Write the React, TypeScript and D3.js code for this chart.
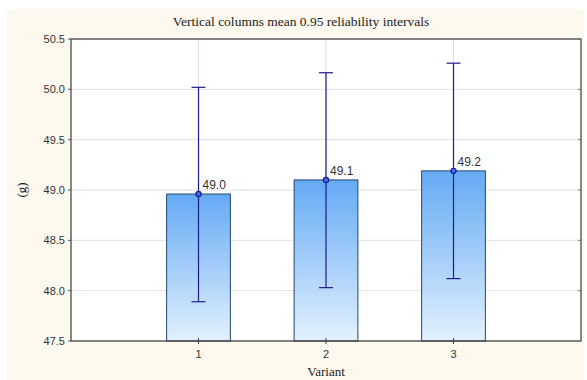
import React from "react";
import * as d3 from "d3";

const variants = ["1", "2", "3"];
const means = [48.96, 49.1, 49.19];
const lowerCI = [47.89, 48.03, 48.12];
const upperCI = [50.02, 50.165, 50.26];
const yTicks = [47.5, 48.0, 48.5, 49.0, 49.5, 50.0, 50.5];

const W = 587;
const H = 380;
const plot = { left: 71, top: 39, right: 581, bottom: 341 };

export default function App() {
  const x = d3.scaleLinear().domain([0, variants.length + 1]).range([plot.left, plot.right]);
  const y = d3.scaleLinear().domain([47.5, 50.5]).range([plot.bottom, plot.top]);
  const slot = x(1) - x(0);
  const barW = slot / 2;
  const capW = 14;
  const sans = "Arial, 'Liberation Sans', sans-serif";
  const serif = "'Times New Roman', 'Liberation Serif', serif";

  return (
    <svg width={W} height={H} style={{ position: "absolute", left: 0, top: 0 }}>
      <defs>
        <linearGradient id="barFill" x1="0" y1="0" x2="0" y2="1">
          <stop offset="0%" stopColor="#64aaf4" />
          <stop offset="100%" stopColor="#e3f1fe" />
        </linearGradient>
      </defs>
      <rect x={0} y={0} width={W} height={H} fill="#ffffff" />
      <rect x={7} y={9} width={577} height={371} fill="#fdf9ef" />
      <rect
        x={plot.left}
        y={plot.top}
        width={plot.right - plot.left}
        height={plot.bottom - plot.top}
        fill="#ffffff"
      />
      {/* horizontal grid */}
      {yTicks.map((t) => (
        <line
          key={"g" + t}
          x1={plot.left}
          x2={plot.right}
          y1={y(t)}
          y2={y(t)}
          stroke="#e2e2e2"
          strokeWidth={1}
        />
      ))}
      {/* vertical grid at categories */}
      {variants.map((v, i) => (
        <line
          key={"vg" + v}
          x1={x(i + 1)}
          x2={x(i + 1)}
          y1={plot.top}
          y2={plot.bottom}
          stroke="#dcdce6"
          strokeWidth={1}
        />
      ))}
      {/* bars */}
      {variants.map((v, i) => (
        <rect
          key={"b" + v}
          x={x(i + 1) - barW / 2}
          y={y(means[i])}
          width={barW}
          height={plot.bottom - y(means[i])}
          fill="url(#barFill)"
          stroke="#24496e"
          strokeWidth={1}
        />
      ))}
      {/* confidence intervals */}
      {variants.map((v, i) => {
        const cx = x(i + 1);
        return (
          <g key={"e" + v} stroke="#1c1c8a" strokeWidth={1.2}>
            <line x1={cx} x2={cx} y1={y(upperCI[i])} y2={y(lowerCI[i])} />
            <line x1={cx - capW / 2} x2={cx + capW / 2} y1={y(upperCI[i])} y2={y(upperCI[i])} />
            <line x1={cx - capW / 2} x2={cx + capW / 2} y1={y(lowerCI[i])} y2={y(lowerCI[i])} />
            <circle cx={cx} cy={y(means[i])} r={2.6} fill="#4a6cf0" />
          </g>
        );
      })}
      {/* mean labels */}
      {variants.map((v, i) => (
        <text
          key={"l" + v}
          x={x(i + 1) + 4}
          y={y(means[i]) - 5}
          fontFamily={sans}
          fontSize={12}
          fill="#333333"
        >
          {means[i].toFixed(1)}
        </text>
      ))}
      {/* plot frame */}
      <rect
        x={plot.left}
        y={plot.top}
        width={plot.right - plot.left}
        height={plot.bottom - plot.top}
        fill="none"
        stroke="#3a3a3a"
        strokeWidth={1.2}
      />
      {/* y axis ticks and labels */}
      {yTicks.map((t) => (
        <g key={"yt" + t}>
          <line x1={plot.left - 3} x2={plot.left} y1={y(t)} y2={y(t)} stroke="#555" />
          <line x1={plot.right - 3} x2={plot.right} y1={y(t)} y2={y(t)} stroke="#777" />
          <text
            x={plot.left - 6}
            y={y(t)}
            dy="0.35em"
            textAnchor="end"
            fontFamily={sans}
            fontSize={11}
            fill="#333333"
          >
            {t.toFixed(1)}
          </text>
        </g>
      ))}
      {/* x axis ticks and labels */}
      {variants.map((v, i) => (
        <g key={"xt" + v}>
          <line x1={x(i + 1)} x2={x(i + 1)} y1={plot.bottom - 3} y2={plot.bottom + 3} stroke="#444" />
          <text
            x={x(i + 1)}
            y={plot.bottom + 17}
            textAnchor="middle"
            fontFamily={sans}
            fontSize={11}
            fill="#333333"
          >
            {v}
          </text>
        </g>
      ))}
      <text
        x={301}
        y={26}
        textAnchor="middle"
        fontFamily={serif}
        fontSize={13.5}
        fill="#222"
      >
        Vertical columns mean 0.95 reliability intervals
      </text>
      <text
        x={(plot.left + plot.right) / 2}
        y={376}
        textAnchor="middle"
        fontFamily={serif}
        fontSize={13}
        fill="#222"
      >
        Variant
      </text>
      <text
        transform={`translate(26, ${y(49.0)}) rotate(-90)`}
        textAnchor="middle"
        fontFamily={serif}
        fontSize={13}
        fill="#222"
      >
        (g)
      </text>
    </svg>
  );
}
